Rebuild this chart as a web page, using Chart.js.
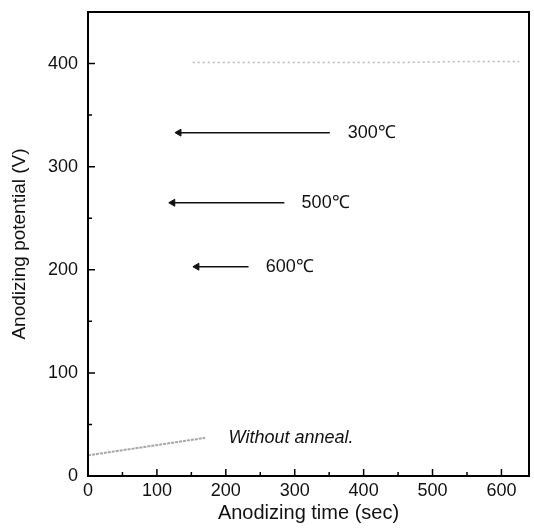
<!DOCTYPE html>
<html><head><meta charset="utf-8">
<script src="https://cdn.jsdelivr.net/npm/chart.js@4/dist/chart.umd.min.js"></script>
<style>html,body{margin:0;padding:0;background:#fff}canvas{display:block}</style>
</head><body>
<canvas id="c" width="534" height="531"></canvas>
<script>
// ---- data ----
const xTicks = [0, 100, 200, 300, 400, 500, 600];
const yTicks = [0, 100, 200, 300, 400];
const xMinorTicks = [50, 150, 250, 350, 450, 550];
const yMinorTicks = [50, 150, 250, 350];

const plateauTime = [152, 250, 350, 450, 550, 626];
const plateauPotential = [401, 401, 401, 401, 402, 402];

const noAnnealTime = [0, 30, 60, 100, 140, 170];
const noAnnealPotential = [20, 23, 26, 30, 34, 37];

const arrowLabels = ["300℃", "500℃", "600℃"];
const arrowPotential = [333, 265, 203];
const arrowTailTime = [351, 285, 233];
const arrowHeadTime = [132, 123, 158];
const arrowLabelTime = [377, 310, 258];

const noteText = "Without anneal.";
const noteTime = 204;
const notePotential = 37;

const xTitle = "Anodizing time (sec)";
const yTitle = "Anodizing potential (V)";

// ---- build datasets ----
const FONT = "'Liberation Sans', Arial, sans-serif";
const datasets = [
  {
    data: plateauTime.map((t, i) => ({x: t, y: plateauPotential[i]})),
    borderColor: '#b8b8b8', borderWidth: 1.5, borderDash: [2, 3],
    pointRadius: 0, showLine: true, tension: 0
  },
  {
    data: noAnnealTime.map((t, i) => ({x: t, y: noAnnealPotential[i]})),
    borderColor: '#a6a6a6', borderWidth: 2, borderDash: [3, 1],
    pointRadius: 0, showLine: true, tension: 0
  }
];
arrowLabels.forEach((lab, i) => {
  datasets.push({
    data: [{x: arrowHeadTime[i], y: arrowPotential[i]}, {x: arrowTailTime[i], y: arrowPotential[i]}],
    borderColor: '#111', borderWidth: 1.5, showLine: true,
    pointStyle: 'triangle', rotation: -90,
    pointRadius: [4, 0], pointBackgroundColor: '#111', pointBorderColor: '#111', pointBorderWidth: 1
  });
});

const framePlugin = {
  id: 'frame',
  afterDraw(chart) {
    const {ctx, chartArea: a, scales: {x, y}} = chart;
    ctx.save();
    ctx.strokeStyle = '#000';
    ctx.lineWidth = 2;
    ctx.strokeRect(a.left, a.top, a.right - a.left, a.bottom - a.top);
    ctx.lineWidth = 1.5;
    ctx.beginPath();
    const tick = (vals, len) => {
      vals.forEach(v => {
        const px = x.getPixelForValue(v);
        ctx.moveTo(px, a.bottom); ctx.lineTo(px, a.bottom - len);
      });
    };
    const ytick = (vals, len) => {
      vals.forEach(v => {
        const py = y.getPixelForValue(v);
        ctx.moveTo(a.left, py); ctx.lineTo(a.left + len, py);
      });
    };
    tick(xTicks, 7); tick(xMinorTicks, 4);
    ytick(yTicks, 7); ytick(yMinorTicks, 4);
    ctx.stroke();
    ctx.restore();
  },
  afterDatasetsDraw(chart) {
    const {ctx, scales: {x, y}} = chart;
    ctx.save();
    ctx.fillStyle = '#111';
    ctx.textBaseline = 'middle';
    ctx.textAlign = 'left';
    ctx.font = "18px " + FONT;
    arrowLabels.forEach((lab, i) => {
      ctx.fillText(lab, x.getPixelForValue(arrowLabelTime[i]), y.getPixelForValue(arrowPotential[i]));
    });
    ctx.font = "italic 18px " + FONT;
    ctx.fillText(noteText, x.getPixelForValue(noteTime), y.getPixelForValue(notePotential));
    ctx.restore();
  }
};

new Chart(document.getElementById('c'), {
  type: 'scatter',
  data: {datasets},
  options: {
    responsive: false,
    animation: false,
    layout: {padding: {top: 12, right: 5, left: 0, bottom: 0}},
    plugins: {legend: {display: false}, tooltip: {enabled: false}},
    scales: {
      x: {
        type: 'linear', min: 0, max: 640,
        afterBuildTicks: s => { s.ticks = xTicks.map(v => ({value: v})); },
        afterFit: s => { s.height = 55; s.paddingLeft = 0; s.paddingRight = 0; },
        grid: {display: false, drawTicks: false},
        border: {display: false},
        ticks: {color: '#111', font: {size: 18, family: FONT}, padding: 4, maxRotation: 0},
        title: {display: true, text: xTitle, color: '#111', font: {size: 20, family: FONT}, padding: {top: 0, bottom: 6}}
      },
      y: {
        type: 'linear', min: 0, max: 450,
        afterBuildTicks: s => { s.ticks = yTicks.map(v => ({value: v})); },
        afterFit: s => { s.width = 88; s.paddingTop = 0; s.paddingBottom = 0; },
        grid: {display: false, drawTicks: false},
        border: {display: false},
        ticks: {color: '#111', font: {size: 18, family: FONT}, padding: 10},
        title: {display: true, text: yTitle, color: '#111', font: {size: 19, family: FONT}, padding: {top: 8, bottom: 0}}
      }
    }
  },
  plugins: [framePlugin]
});
</script>
</body></html>
